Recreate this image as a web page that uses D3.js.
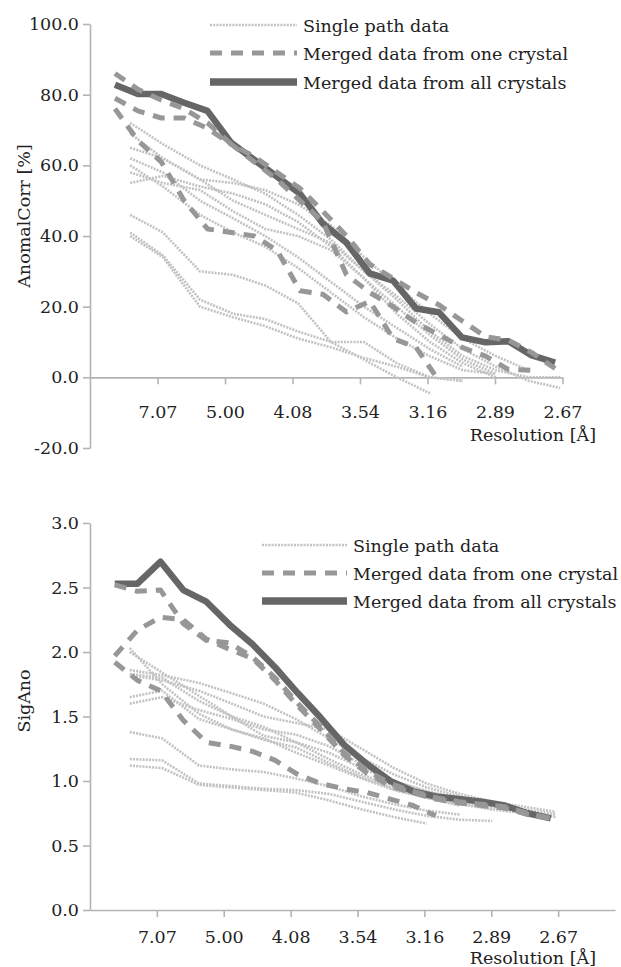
<!DOCTYPE html>
<html>
<head>
<meta charset="utf-8">
<script src="https://cdn.jsdelivr.net/npm/d3@7"></script>
<style>
  body { margin: 0; background: #fff; }
  svg text { font-family: "DejaVu Serif", serif; }
</style>
</head>
<body>
<svg id="chart" width="621" height="967"></svg>
<script>
// x positions are 1/d^2 (A^-2); tick labels are the matching resolutions
const tickInvD2 = [0.02, 0.04, 0.06, 0.08, 0.10, 0.12, 0.14];
const resolutionTicks = ['7.07', '5.00', '4.08', '3.54', '3.16', '2.89', '2.67'];

// shells used by the merged data sets
const mergedInvD2 = [0.0074, 0.0142, 0.0211, 0.0279, 0.0348, 0.0418, 0.0486, 0.0554, 0.0622, 0.0690,
  0.0760, 0.0829, 0.0898, 0.0966, 0.1034, 0.1102, 0.1172, 0.1240, 0.1309, 0.1378];
// shells used by the single path data sets
const singleInvD2 = [0.0119, 0.0216, 0.0326, 0.0424, 0.0519, 0.0616, 0.0714, 0.0812, 0.0909, 0.1007,
  0.1105, 0.1203, 0.1300, 0.1393];

const legendLabels = ['Single path data', 'Merged data from one crystal', 'Merged data from all crystals'];

// AnomalCorr [%]
const corrAll = [82.8, 80.2, 80.2, 77.7, 75.4, 66.4, 61.6, 56.8, 52.0, 43.5, 38.1, 29.4, 27.4, 19.5, 18.4,
  11.3, 9.9, 10.2, 6.2, 4.2];
const corrOneCrystal = [
  [86, 81.5, 78.5, 76, 72, 66, 62.5, 58, 53.5, 47, 40, 32, 28, 24, 20.5, 16, 11.5, 10.5, 7, 2.5],
  [79, 75.4, 73.4, 73.4, 70.5, 66, 61, 56, 50, 44, 29, 24, 20, 15.5, 12, 8.5, 6, 2.2, 2],
  [76, 67, 61, 50, 42, 41, 40, 36, 24.5, 23.5, 18.5, 21.5, 11, 8.5, -1],
];
const corrSingle = [
  [46, 41, 30, 29, 26, 21, 10, 10, 4, 0, -1],
  [41, 34.5, 22, 18, 16.5, 13, 10, 5, 0, -4.5],
  [40, 34, 20, 17, 14.5, 11, 8.5, 5.5, 3, 0, -1],
  [72, 66, 60, 56, 52, 46, 39, 30, 23, 15, 8, 3, -1, -3],
  [69, 62, 56, 55, 53, 49, 43, 34, 26, 18, 11, 6, 2],
  [65, 62, 56, 50, 46, 42, 38, 30, 22, 13, 6, 2, 0, 0],
  [58, 55, 53, 47, 42, 40, 36, 28, 20, 12, 5, 1],
  [55, 57, 54, 52, 49, 44, 37, 28, 18, 10, 4, 0],
  [62, 58, 50, 45, 40, 34, 27, 20, 14, 8, 3],
  [60, 54, 46, 41, 37, 31, 24, 17, 11, 6, 2, 1],
];

// SigAno
const sigAll = [2.53, 2.53, 2.70, 2.48, 2.39, 2.21, 2.06, 1.88, 1.68, 1.49, 1.28, 1.13, 1.00, 0.92, 0.88,
  0.86, 0.84, 0.81, 0.75, 0.71];
const sigOneCrystal = [
  [2.52, 2.47, 2.48, 2.22, 2.09, 2.07, 1.96, 1.80, 1.60, 1.42, 1.22, 1.08, 0.98, 0.92, 0.87, 0.84, 0.82, 0.80, 0.75, 0.71],
  [1.97, 2.17, 2.27, 2.25, 2.10, 2.02, 1.95, 1.78, 1.58, 1.40, 1.20, 1.06, 0.96, 0.91, 0.86, 0.83, 0.81, 0.79, 0.74, 0.71],
  [1.92, 1.78, 1.70, 1.47, 1.30, 1.27, 1.23, 1.16, 1.05, 0.98, 0.94, 0.91, 0.86, 0.81, 0.73],
];
const sigSingle = [
  [2.03, 1.75, 1.52, 1.40, 1.33, 1.22, 1.12, 1.02, 0.93, 0.87, 0.82, 0.78, 0.75],
  [2.00, 1.84, 1.66, 1.50, 1.42, 1.30, 1.17, 1.05, 0.96, 0.89, 0.83, 0.78],
  [1.86, 1.82, 1.76, 1.68, 1.60, 1.48, 1.33, 1.18, 1.05, 0.95, 0.88, 0.82, 0.78, 0.74],
  [1.60, 1.65, 1.55, 1.48, 1.40, 1.36, 1.27, 1.13, 1.00, 0.92, 0.86, 0.80, 0.76, 0.72],
  [1.38, 1.33, 1.12, 1.09, 1.07, 1.02, 0.96, 0.88, 0.82, 0.77, 0.74],
  [1.17, 1.16, 0.98, 0.96, 0.94, 0.93, 0.90, 0.84, 0.78, 0.73, 0.70, 0.69],
  [1.12, 1.10, 0.97, 0.95, 0.93, 0.91, 0.85, 0.78, 0.72, 0.67],
  [1.82, 1.78, 1.70, 1.60, 1.50, 1.45, 1.40, 1.25, 1.10, 0.98, 0.90, 0.84, 0.80, 0.76],
  [1.83, 1.80, 1.62, 1.50, 1.35, 1.30, 1.22, 1.10, 1.00, 0.92, 0.86, 0.80],
  [1.65, 1.70, 1.48, 1.40, 1.32, 1.26, 1.14, 1.03, 0.94, 0.87, 0.81],
];

const FONT = 17.5;
const styles = {
  single: { stroke: '#c2c2c2', width: 2.6, dash: '2,1.2' },
  one: { stroke: '#979797', width: 5, dash: '12,9' },
  all: { stroke: '#666666', width: 6.5, dash: null },
};

const svg = d3.select('#chart');

function drawPanel(p) {
  const x = d3.scaleLinear().domain([0, p.xMax]).range([90, p.xRight]);
  const y = d3.scaleLinear().domain(p.yDomain).range(p.yRange);
  const g = svg.append('g');

  // y axis
  const yAxis = g.append('g')
    .attr('transform', 'translate(90,0)')
    .call(d3.axisLeft(y).tickValues(p.yTicks).tickFormat(d => d.toFixed(1))
      .tickSize(7).tickPadding(4).tickSizeOuter(0));
  // x axis
  const xAxis = g.append('g')
    .attr('transform', `translate(0,${y(0)})`)
    .call(d3.axisBottom(x).tickValues(tickInvD2).tickFormat((d, i) => resolutionTicks[i])
      .tickSize(7).tickPadding(p.xPad).tickSizeOuter(0));

  [yAxis, xAxis].forEach(a => {
    a.attr('color', '#b4b4b4').attr('font-size', FONT).attr('font-family', 'DejaVu Serif');
    a.selectAll('path, line').attr('stroke-width', 1.6);
    a.selectAll('text').attr('fill', '#222');
  });

  g.append('text')
    .attr('transform', `translate(${p.yLabelX},${p.yLabelY}) rotate(-90)`)
    .attr('text-anchor', 'middle')
    .attr('font-size', FONT).attr('fill', '#222')
    .text(p.yLabel);

  g.append('text')
    .attr('x', 596).attr('y', p.xLabelY)
    .attr('text-anchor', 'end')
    .attr('font-size', FONT).attr('fill', '#222')
    .text('Resolution [Å]');

  const line = xs => d3.line().x((d, i) => x(xs[i])).y(d => y(d));

  function drawSeries(data, xs, st) {
    g.append('path')
      .datum(data)
      .attr('d', line(xs))
      .attr('fill', 'none')
      .attr('stroke', st.stroke)
      .attr('stroke-width', st.width)
      .attr('stroke-dasharray', st.dash)
      .attr('stroke-linejoin', 'round');
  }

  p.single.forEach(s => drawSeries(s, singleInvD2, styles.single));
  drawSeries(p.all, mergedInvD2, styles.all);
  p.one.forEach(s => drawSeries(s, mergedInvD2, styles.one));

  // legend
  [styles.single, styles.one, styles.all].forEach((st, i) => {
    const ly = p.legendY[i];
    g.append('line')
      .attr('x1', p.legendX[0]).attr('x2', p.legendX[1])
      .attr('y1', ly).attr('y2', ly)
      .attr('stroke', st.stroke)
      .attr('stroke-width', i === 2 ? 7.5 : st.width)
      .attr('stroke-dasharray', st.dash);
    g.append('text')
      .attr('x', p.legendX[1] + 6).attr('y', ly + 7)
      .attr('font-size', FONT).attr('fill', '#222')
      .text(legendLabels[i]);
  });
}

drawPanel({
  xMax: 0.14, xRight: 562.5,
  yDomain: [-20, 100], yRange: [448, 24], yTicks: [-20, 0, 20, 40, 60, 80, 100],
  xPad: 21, xLabelY: 441,
  yLabel: 'AnomalCorr [%]', yLabelX: 30, yLabelY: 216,
  legendX: [210, 297], legendY: [25, 53, 82],
  all: corrAll, one: corrOneCrystal, single: corrSingle,
});

drawPanel({
  xMax: 0.157, xRight: 615,
  yDomain: [0, 3], yRange: [910, 523], yTicks: [0, 0.5, 1, 1.5, 2, 2.5, 3],
  xPad: 14, xLabelY: 964,
  yLabel: 'SigAno', yLabelX: 30, yLabelY: 701,
  legendX: [262, 347], legendY: [545, 573, 601],
  all: sigAll, one: sigOneCrystal, single: sigSingle,
});
</script>
</body>
</html>
